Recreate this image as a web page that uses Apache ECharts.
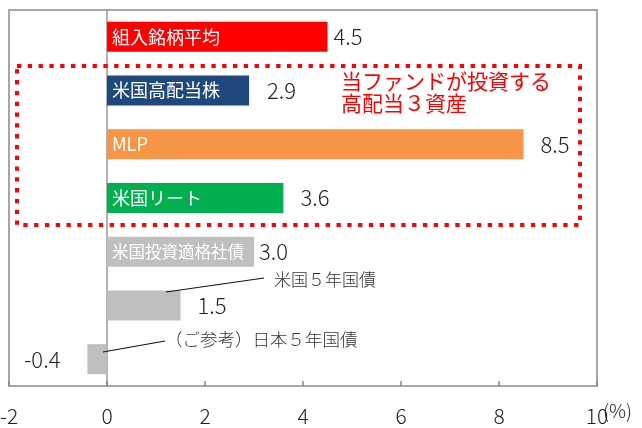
<!DOCTYPE html>
<html>
<head>
<meta charset="utf-8">
<script src="https://cdn.jsdelivr.net/npm/echarts@6/dist/echarts.min.js"></script>
<style>
  html, body { margin: 0; padding: 0; background: #fff; }
  #main { width: 642px; height: 428px; }
</style>
</head>
<body>
<div id="main"></div>
<script>
// 資産クラス（上から順）
var categories = ['組入銘柄平均', '米国高配当株', 'MLP', '米国リート', '米国投資適格社債', '米国５年国債', '（ご参考）日本５年国債'];
// 利回り(%)
var yields = [4.5, 2.9, 8.5, 3.6, 3.0, 1.5, -0.4];
// バーの中に書く名前（国債2本は注記で表示）
var insideNames = ['組入銘柄平均', '米国高配当株', 'MLP', '米国リート', '米国投資適格社債', '', ''];
var xTicks = [-2, 0, 2, 4, 6, 8, 10];

// 見た目
var barColors = ['#ff0000', '#1f497d', '#f79646', '#00b050', '#bfbfbf', '#bfbfbf', '#bfbfbf'];
var valueGaps = [6, 18, 17, 17, 5, 17, 27];
var FONT = '"Noto Sans CJK JP", "Noto Sans", sans-serif';

var nameData = yields.map(function (v, i) {
  return {
    value: v,
    itemStyle: { color: barColors[i] },
    label: { fontSize: insideNames[i].length > 6 ? 16.5 : 18 }
  };
});
var valueData = yields.map(function (v, i) {
  return {
    value: v,
    label: { position: v < 0 ? 'left' : 'right', distance: valueGaps[i] }
  };
});

var myChart = echarts.init(document.getElementById('main'));
var option = {
  animation: false,
  grid: {
    left: 9, right: 45, top: 10, bottom: 42,
    show: true, borderColor: '#a6a6a6', borderWidth: 2,
    outerBoundsMode: 'none'
  },
  xAxis: {
    type: 'value',
    min: xTicks[0], max: xTicks[xTicks.length - 1], interval: 2,
    name: '(%)',
    nameLocation: 'end',
    nameGap: 6,
    nameMoveOverlap: false,
    nameTextStyle: { fontFamily: FONT, fontSize: 19, fontWeight: 300, color: '#222', verticalAlign: 'top', padding: [15, 0, 0, 0] },
    axisLine: { lineStyle: { color: '#888', width: 2 } },
    axisTick: { show: true, inside: true, length: 5, lineStyle: { color: '#888', width: 1.5 } },
    axisLabel: { fontFamily: FONT, fontSize: 21, fontWeight: 300, color: '#222', margin: 20 },
    splitLine: { show: false }
  },
  yAxis: {
    type: 'category',
    data: categories,
    inverse: true,
    axisLine: { onZero: true, lineStyle: { color: '#999', width: 1.5 } },
    axisTick: { show: false },
    axisLabel: { show: false },
    splitLine: { show: false }
  },
  series: [{
    // 色付きバー＋中の名前
    type: 'bar',
    barWidth: 30,
    data: nameData,
    label: {
      show: true,
      position: 'insideLeft',
      distance: 5,
      fontFamily: FONT,
      color: '#fff',
      formatter: function (p) { return insideNames[p.dataIndex]; }
    }
  }, {
    // 透明バーで数値ラベルだけ出す
    type: 'bar',
    barWidth: 30,
    barGap: '-100%',
    silent: true,
    data: valueData,
    itemStyle: { color: 'rgba(0,0,0,0)' },
    label: {
      show: true,
      fontFamily: FONT,
      fontSize: 22,
      fontWeight: 300,
      color: '#222',
      formatter: function (p) { return p.value.toFixed(1); }
    }
  }],
  graphic: [{
    type: 'rect',
    shape: { x: 17, y: 66, width: 563, height: 159 },
    style: { fill: 'none', stroke: '#ff0000', lineWidth: 4, lineDash: [4.3, 6.5] },
    z: 100
  }, {
    type: 'text',
    left: 341, top: 70,
    style: {
      text: '当ファンドが投資する\n高配当３資産',
      fill: '#ff0000', font: '21px ' + FONT, lineHeight: 22
    },
    z: 100
  }, {
    type: 'line',
    shape: { x1: 264, y1: 278, x2: 166, y2: 292 },
    style: { stroke: '#111', lineWidth: 1.2 },
    z: 100
  }, {
    type: 'text',
    left: 274, top: 271,
    style: { text: categories[5], fill: '#333', font: '300 17px ' + FONT },
    z: 100
  }, {
    type: 'line',
    shape: { x1: 165, y1: 341, x2: 103, y2: 352 },
    style: { stroke: '#111', lineWidth: 1.2 },
    z: 100
  }, {
    type: 'text',
    left: 165, top: 331,
    style: { text: categories[6], fill: '#333', font: '300 17.5px ' + FONT },
    z: 100
  }]
};
myChart.setOption(option);
</script>
</body>
</html>
